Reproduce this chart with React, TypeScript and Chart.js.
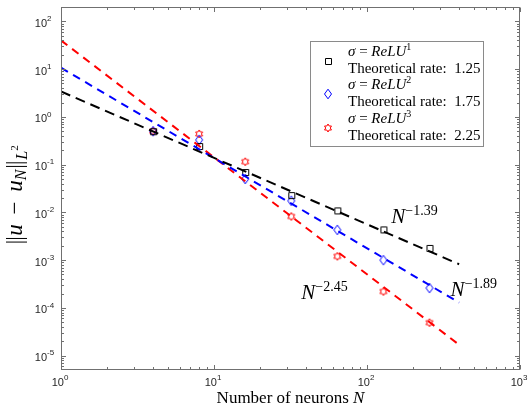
import React, { useEffect, useRef } from 'react';
import { Chart, registerables } from 'chart.js';
Chart.register(...registerables);

// ---- data ----
const neurons = [4, 8, 16, 32, 64, 128, 256];
const errRelu1 = [0.5, 0.245, 0.07, 0.023, 0.011, 0.0044, 0.0018];
const errRelu2 = [0.5, 0.33, 0.05, 0.0175, 0.0043, 0.001, 0.00026];
const errRelu3 = [0.5, 0.44, 0.115, 0.0082, 0.0012, 0.00022, 0.000049];
const fitN = [1, 400];
const fitRelu1 = [3.4, 0.00082];
const fitRelu2 = [10.7, 0.000129];
const fitRelu3 = [40, 0.0000169];
const seriesColors = ['#000000', '#0000ff', '#ff0000'];
const legendTitles = ['1', '2', '3'];
const legendRates = ['1.25', '1.75', '2.25'];
const rateLabels = ['\u22121.39', '\u22121.89', '\u22122.45'];
const rateLabelN = [144, 352, 37.2];
const rateLabelErr = [0.00607, 0.00018, 0.000151];
const xTickExps = [0, 1, 2, 3];
const yTickExps = [-5, -4, -3, -2, -1, 0, 1, 2];

const SERIF = '"Liberation Serif", "Times New Roman", serif';
const SANS = '"Liberation Sans", Arial, sans-serif';

function makeMarker(kind: string, color: string): HTMLCanvasElement {
  const c = document.createElement('canvas');
  const s = 14;
  c.width = s;
  c.height = s;
  const ctx = c.getContext('2d')!;
  ctx.strokeStyle = color;
  ctx.lineWidth = 1;
  const m = s / 2;
  ctx.beginPath();
  if (kind === 'square') {
    ctx.rect(m - 2.5, m - 2.5, 6, 6);
  } else if (kind === 'diamond') {
    ctx.moveTo(m, m - 4.8);
    ctx.lineTo(m + 3.5, m);
    ctx.lineTo(m, m + 4.8);
    ctx.lineTo(m - 3.5, m);
    ctx.closePath();
  } else {
    const R = 4;
    const r = R / Math.sqrt(3);
    for (let k = 0; k < 12; k++) {
      const ang = -Math.PI / 2 + (k * Math.PI) / 6;
      const rad = k % 2 === 0 ? R : r;
      const px = m + rad * Math.cos(ang);
      const py = m + rad * Math.sin(ang);
      if (k === 0) ctx.moveTo(px, py);
      else ctx.lineTo(px, py);
    }
    ctx.closePath();
  }
  ctx.stroke();
  return c;
}

type Seg = { text: string; font: string; dy?: number; bars?: number; adv?: number };

function segWidth(ctx: CanvasRenderingContext2D, s: Seg) {
  if (s.bars) return s.adv || 10;
  ctx.font = s.font;
  return ctx.measureText(s.text).width + (s.adv || 0);
}

function richWidth(ctx: CanvasRenderingContext2D, segs: Seg[]) {
  let w = 0;
  for (const s of segs) w += segWidth(ctx, s);
  return w;
}

function drawRich(ctx: CanvasRenderingContext2D, segs: Seg[], x: number, y: number) {
  let cx = x;
  for (const s of segs) {
    const w = segWidth(ctx, s);
    if (s.bars) {
      // double vertical bar (norm delimiter)
      ctx.save();
      ctx.lineWidth = 1;
      ctx.strokeStyle = '#000';
      ctx.beginPath();
      const mid = cx + w / 2;
      ctx.moveTo(mid - 1.8, y - s.bars);
      ctx.lineTo(mid - 1.8, y + 5);
      ctx.moveTo(mid + 1.8, y - s.bars);
      ctx.lineTo(mid + 1.8, y + 5);
      ctx.stroke();
      ctx.restore();
    } else {
      ctx.font = s.font;
      ctx.fillText(s.text, cx, y + (s.dy || 0));
    }
    cx += w;
  }
}

export default function App() {
  const ref = useRef<HTMLCanvasElement>(null);

  useEffect(() => {
    const markers = [
      makeMarker('square', seriesColors[0]),
      makeMarker('diamond', seriesColors[1]),
      makeMarker('hexagram', seriesColors[2]),
    ];
    const errs = [errRelu1, errRelu2, errRelu3];
    const fits = [fitRelu1, fitRelu2, fitRelu3];

    const datasets: any[] = [];
    errs.forEach((e, i) => {
      datasets.push({
        type: 'scatter',
        data: neurons.map((n, j) => ({ x: n, y: e[j] })),
        pointStyle: markers[i],
        showLine: false,
        order: 1,
      });
    });
    fits.forEach((f, i) => {
      datasets.push({
        type: 'line',
        data: fitN.map((n, j) => ({ x: n, y: f[j] })),
        borderColor: seriesColors[i],
        borderWidth: 2,
        borderDash: i === 0 ? [10, 6] : [8, 6],
        pointRadius: 0,
        fill: false,
        order: 0,
      });
    });

    const axesPlugin = {
      id: 'matlabAxes',
      afterDatasetsDraw(chart: any) {
        const ctx: CanvasRenderingContext2D = chart.ctx;
        const { left, right, top, bottom } = chart.chartArea;
        const xs = chart.scales.x;
        const ys = chart.scales.y;
        ctx.save();

        // rate annotations
        ctx.fillStyle = '#000';
        ctx.textBaseline = 'alphabetic';
        ctx.textAlign = 'left';
        rateLabels.forEach((lab, i) => {
          const px = xs.getPixelForValue(rateLabelN[i]);
          const py = ys.getPixelForValue(rateLabelErr[i]);
          drawRich(
            ctx,
            [
              { text: 'N', font: `italic 21px ${SERIF}` },
              { text: lab, font: `14px ${SERIF}`, dy: -8 },
            ],
            px,
            py
          );
        });

        // legend
        const lx0 = 310.5, ly0 = 41.5, lx1 = 483.5, ly1 = 146.5;
        ctx.fillStyle = '#fff';
        ctx.fillRect(lx0, ly0, lx1 - lx0, ly1 - ly0);
        ctx.strokeStyle = '#8a8a8a';
        ctx.lineWidth = 1;
        ctx.strokeRect(lx0, ly0, lx1 - lx0, ly1 - ly0);
        for (let i = 0; i < 3; i++) {
          const yTop = 55.5 + i * 33.5;
          const mk = markers[i];
          ctx.drawImage(mk, 328 - mk.width / 2, Math.round(yTop + 5 - mk.height / 2));
          ctx.fillStyle = '#000';
          drawRich(
            ctx,
            [
              { text: '\u03c3', font: `italic 15px ${SERIF}` },
              { text: ' = ', font: `15px ${SERIF}` },
              { text: 'ReLU', font: `italic 15px ${SERIF}` },
              { text: legendTitles[i], font: `10px ${SERIF}`, dy: -6 },
            ],
            348,
            yTop
          );
          drawRich(ctx, [{ text: 'Theoretical rate:  ' + legendRates[i], font: `15px ${SERIF}` }], 348, yTop + 17);
        }

        // box
        ctx.strokeStyle = '#707070';
        ctx.lineWidth = 1;
        const L = Math.round(left) + 0.5, R = Math.round(right) - 0.5;
        const T = Math.round(top) + 0.5, B = Math.round(bottom) - 0.5;
        ctx.strokeRect(L, T, R - L, B - T);

        // ticks
        ctx.beginPath();
        const major = 4.5, minor = 2.5;
        for (let e = 0; e <= 3; e++) {
          for (let k = 1; k <= 9; k++) {
            const v = k * Math.pow(10, e);
            if (v > 1000 || (e === 3 && k > 1)) continue;
            const px = Math.round(xs.getPixelForValue(v)) + 0.5;
            const len = k === 1 ? major : minor;
            ctx.moveTo(px, B);
            ctx.lineTo(px, B - len);
            ctx.moveTo(px, T);
            ctx.lineTo(px, T + len);
          }
        }
        for (let e = -6; e <= 2; e++) {
          for (let k = 1; k <= 9; k++) {
            const v = k * Math.pow(10, e);
            if (v < 5e-6 || v > 200) continue;
            const py = Math.round(ys.getPixelForValue(v)) + 0.5;
            const len = k === 1 ? major : minor;
            ctx.moveTo(L, py);
            ctx.lineTo(L + len, py);
            ctx.moveTo(R, py);
            ctx.lineTo(R - len, py);
          }
        }
        ctx.stroke();

        // tick labels
        ctx.fillStyle = '#262626';
        ctx.textBaseline = 'middle';
        xTickExps.forEach((e) => {
          const px = xs.getPixelForValue(Math.pow(10, e));
          ctx.font = `11px ${SANS}`;
          const w1 = ctx.measureText('10').width;
          ctx.font = `8px ${SANS}`;
          const w2 = ctx.measureText(String(e)).width;
          const sx = px - (w1 + w2) / 2 - 1;
          ctx.font = `11px ${SANS}`;
          ctx.fillText('10', sx, bottom + 13);
          ctx.font = `8px ${SANS}`;
          ctx.fillText(String(e), sx + w1, bottom + 8);
        });
        yTickExps.forEach((e) => {
          const py = ys.getPixelForValue(Math.pow(10, e));
          ctx.font = `11px ${SANS}`;
          const w1 = ctx.measureText('10').width;
          const ex = 47;
          ctx.fillText('10', ex - w1, py + 2.5);
          ctx.font = `8px ${SANS}`;
          ctx.fillText(e < 0 ? '-' + String(-e) : String(e), ex, py - 2.5);
        });

        // x axis title
        ctx.fillStyle = '#000';
        ctx.textBaseline = 'alphabetic';
        const xt: Seg[] = [
          { text: 'Number of neurons ', font: `17px ${SERIF}` },
          { text: 'N', font: `italic 17px ${SERIF}` },
        ];
        const xw = richWidth(ctx, xt);
        drawRich(ctx, xt, (left + right) / 2 - xw / 2, 403);

        // y axis title
        const yt: Seg[] = [
          { text: '', font: '', bars: 16, adv: 9 },
          { text: 'u', font: `italic 23px ${SERIF}` },
          { text: '\u2212', font: `23px ${SERIF}`, adv: 0 },
          { text: 'u', font: `italic 23px ${SERIF}` },
          { text: 'N', font: `italic 16px ${SERIF}`, dy: 4 },
          { text: '', font: '', bars: 16, adv: 10 },
          { text: 'L', font: `italic 16px ${SERIF}`, dy: 5 },
          { text: '2', font: `11px ${SERIF}`, dy: -4 },
        ];
        // spacing around the minus sign
        yt.splice(2, 0, { text: ' ', font: `23px ${SERIF}`, adv: 4 });
        yt.splice(4, 0, { text: ' ', font: `23px ${SERIF}`, adv: 4 });
        const yw = richWidth(ctx, yt);
        ctx.translate(22, 195);
        ctx.rotate(-Math.PI / 2);
        drawRich(ctx, yt, -yw / 2, 0);

        ctx.restore();
      },
    };

    const chart = new Chart(ref.current!, {
      type: 'scatter',
      data: { datasets },
      options: {
        responsive: false,
        animation: false,
        layout: { padding: { left: 61, right: 11, top: 7, bottom: 39 } },
        scales: {
          x: { type: 'logarithmic', min: 1, max: 1000, display: false },
          y: { type: 'logarithmic', min: 5e-6, max: 200, display: false },
        },
        plugins: { legend: { display: false }, tooltip: { enabled: false } },
      },
      plugins: [axesPlugin],
    } as any);
    return () => chart.destroy();
  }, []);

  return (
    <div style={{ position: 'fixed', left: 0, top: 0, width: 531, height: 409, background: '#fff' }}>
      <canvas ref={ref} width={531} height={409} style={{ display: 'block' }} />
    </div>
  );
}
